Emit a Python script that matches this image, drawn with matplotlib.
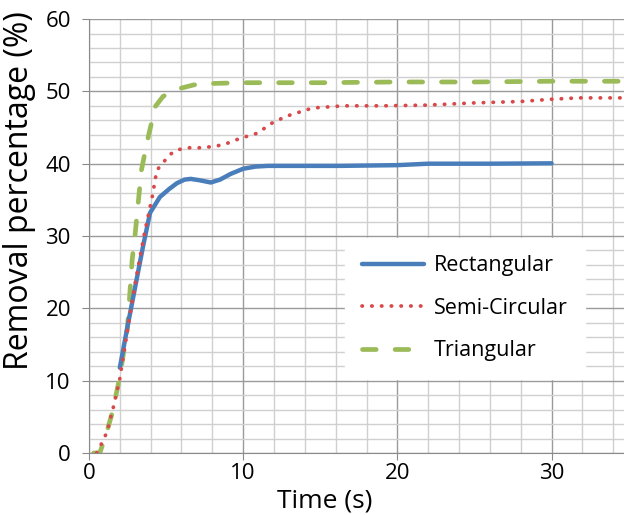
import matplotlib.pyplot as plt
from matplotlib.ticker import MultipleLocator

# Rectangular
t_rect = [2.0, 2.5, 3.0, 3.5, 3.96, 4.6, 5.2, 5.7, 6.2, 6.6, 7.2, 7.9, 8.5, 9.2, 10.0, 10.8, 11.6, 13.3, 16.3, 20.0, 22.0, 26.0, 30.0]
y_rect = [11.8, 17.5, 23.0, 28.5, 33.2, 35.4, 36.5, 37.3, 37.8, 37.9, 37.7, 37.4, 37.8, 38.6, 39.3, 39.6, 39.7, 39.7, 39.7, 39.8, 40.0, 40.0, 40.05]

# Semi-Circular
t_semi = [0.5, 0.84, 1.17, 1.6, 2.0, 2.5, 3.0, 3.6, 4.1, 4.4, 4.8, 5.2, 5.7, 6.4, 7.4, 8.7, 9.8, 10.9, 12.0, 13.0, 14.5, 16.5, 19.0, 21.9, 24.9, 28.0, 29.9, 31.7, 34.7]
y_semi = [0.0, 1.4, 2.9, 6.5, 10.3, 17.0, 23.5, 30.4, 35.4, 39.1, 40.1, 41.2, 41.9, 42.2, 42.2, 42.6, 43.5, 44.2, 45.8, 46.7, 47.7, 48.0, 48.0, 48.1, 48.4, 48.6, 48.9, 49.1, 49.1]

# Triangular
t_tri = [0.3, 0.7, 1.1, 1.5, 2.0, 2.5, 2.8, 3.0, 3.4, 3.8, 4.3, 4.8, 5.7, 6.8, 8.1, 10.0, 15.0, 20.0, 25.0, 30.0, 34.7]
y_tri = [0.0, 0.0, 2.5, 5.5, 10.5, 17.4, 26.7, 30.4, 39.1, 43.3, 47.9, 49.3, 50.3, 50.9, 51.1, 51.2, 51.2, 51.3, 51.3, 51.4, 51.4]

plt.rcParams['font.family'] = ['Open Sans', 'DejaVu Sans']

fig = plt.figure(figsize=(6.24, 5.15), dpi=100)
ax = fig.add_axes([0.1426, 0.1204, 0.8574, 0.8426])

ax.plot(t_rect, y_rect, color='#4a7ebb', lw=3.2, solid_capstyle='round', label='Rectangular', zorder=3)
ax.plot(t_semi, y_semi, color='#d9484a', lw=2.7, linestyle=(0, (0.1, 2.5)), dash_capstyle='round', label='Semi-Circular', zorder=4)
ax.plot(t_tri, y_tri, color='#9bbb59', lw=3.4, linestyle=(0, (2.9, 4.0)), dash_capstyle='round', label='Triangular', zorder=2)

ax.set_xlim(0, 34.7)
ax.set_ylim(0, 60)
ax.xaxis.set_major_locator(MultipleLocator(10))
ax.xaxis.set_minor_locator(MultipleLocator(2))
ax.yaxis.set_major_locator(MultipleLocator(10))
ax.yaxis.set_minor_locator(MultipleLocator(2))

ax.grid(which='minor', color='#d0d0d0', lw=1.0)
ax.grid(which='major', color='#9a9a9a', lw=1.0)
ax.set_axisbelow(True)

for s in ['top', 'right']:
    ax.spines[s].set_visible(False)
for s in ['left', 'bottom']:
    ax.spines[s].set_color('#8a8a8a')

ax.tick_params(which='major', length=5, color='#8a8a8a', labelsize=16)
ax.tick_params(axis='y', pad=8)
ax.tick_params(axis='x', pad=2)
ax.tick_params(which='minor', length=0)

ax.set_xlabel('Time (s)', fontsize=19)
ax.set_ylabel('Removal percentage (%)', fontsize=23)
ax.xaxis.set_label_coords(0.44, -0.081)
ax.yaxis.set_label_coords(-0.099, 0.605)

leg = ax.legend(loc='upper left', bbox_to_anchor=(0.478, 0.495), fontsize=15.5,
                frameon=True, framealpha=1, edgecolor='white', fancybox=False,
                handlelength=2.9, handletextpad=0.45, labelspacing=1.0,
                borderpad=0.8, borderaxespad=0)

fig.savefig('out.png', dpi=100)
